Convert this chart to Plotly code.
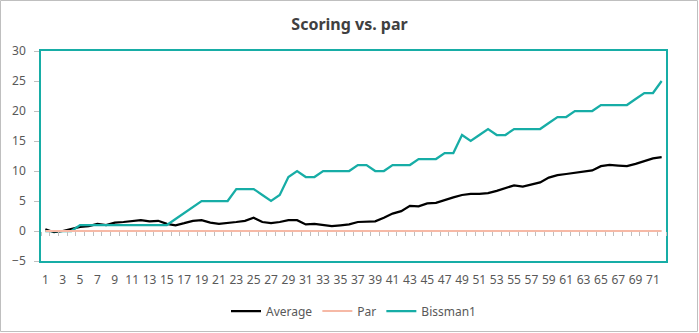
import plotly.graph_objects as go

rounds = list(range(1, 73))
average = [0.3, -0.2, 0.0, 0.3, 0.7, 0.8, 1.2, 1.0, 1.4, 1.5, 1.6, 1.8, 1.6, 1.7, 1.2, 0.95,
           1.3, 1.7, 1.8, 1.4, 1.2, 1.3, 1.5, 1.7, 2.2, 1.5, 1.3, 1.5, 1.8, 1.8, 1.1, 1.2,
           1.0, 0.8, 0.95, 1.1, 1.5, 1.6, 1.6, 2.2, 2.9, 3.3, 4.2, 4.1, 4.6, 4.7, 5.2, 5.6,
           6.0, 6.2, 6.2, 6.3, 6.7, 7.1, 7.6, 7.4, 7.7, 8.1, 8.9, 9.3, 9.5, 9.7, 9.9, 10.1,
           10.8, 11.0, 10.9, 10.8, 11.2, 11.6, 12.1, 12.3]
par = [0] * 72
bissman1 = [0, 0, 0, 0, 1, 1, 1, 1, 1, 1, 1, 1, 1, 1, 1, 2, 3, 4, 5, 5, 5, 5, 7, 7, 7, 6,
            5, 6, 9, 10, 9, 9, 10, 10, 10, 10, 11, 11, 10, 10, 11, 11, 11, 12, 12, 12, 13,
            13, 16, 15, 16, 17, 16, 16, 17, 17, 17, 17, 18, 19, 19, 20, 20, 20, 21, 21, 21,
            21, 22, 23, 23, 25]
x_labels = [str(v) for v in range(1, 73, 2)]
y_ticks = [-5, 0, 5, 10, 15, 20, 25, 30]

TEAL = "#17ADA6"
SALMON = "#F6B9A6"
FONT = "Segoe UI, Noto Sans, sans-serif"
GRAY_TXT = "#595959"

fig = go.Figure()
fig.add_trace(go.Scatter(x=rounds, y=average, name="Average", mode="lines",
                         line=dict(color="black", width=2.25)))
fig.add_trace(go.Scatter(x=rounds, y=par, name="Par", mode="lines", xaxis="x2",
                         line=dict(color=SALMON, width=2)))
fig.add_trace(go.Scatter(x=rounds, y=bissman1, name="Bissman1", mode="lines",
                         line=dict(color=TEAL, width=2.25)))

ymin, ymax = -5, 30
fig.update_layout(
    width=699, height=333,
    margin=dict(l=41, r=33, t=51, b=72, autoexpand=False),
    paper_bgcolor="white", plot_bgcolor="white",
    font=dict(family=FONT, size=12, color=GRAY_TXT),
    title=dict(text="<b>Scoring vs. par</b>", x=0.5, xanchor="center",
               y=1 - 24 / 333, yanchor="middle",
               font=dict(family=FONT, size=16, color="#404040")),
    xaxis=dict(range=[0.5, 72.5], tickmode="array",
               tickvals=list(range(1, 73, 2)), ticktext=x_labels,
               ticks="", ticklabelstandoff=7, automargin=False,
               showgrid=False, zeroline=False,
               showline=True, linecolor=TEAL, linewidth=1.5, mirror=True,
               tickfont=dict(size=12, color=GRAY_TXT)),
    xaxis2=dict(range=[0.5, 72.5], overlaying="x", anchor="free",
                position=(0 - ymin) / (ymax - ymin), automargin=False,
                tickmode="linear", tick0=0.5, dtick=1,
                ticks="outside", ticklen=4, tickcolor="#BFBFBF", tickwidth=1,
                showticklabels=False, showgrid=False, zeroline=False, showline=False),
    yaxis=dict(range=[ymin, ymax], tickmode="array", tickvals=y_ticks,
               ticks="outside", ticklen=5, tickcolor="#BFBFBF",
               ticklabelstandoff=6, automargin=False,
               showgrid=False, zeroline=False,
               showline=True, linecolor=TEAL, linewidth=1.5, mirror=True,
               tickfont=dict(size=12, color=GRAY_TXT)),
    showlegend=True,
    legend=dict(orientation="h", x=0.5, xanchor="center",
                y=(261 - 311) / 210, yanchor="middle",
                font=dict(size=12, color=GRAY_TXT), itemwidth=30,
                bgcolor="rgba(0,0,0,0)"),
)

fig.add_shape(type="rect", xref="paper", yref="paper",
              x0=(0.5 - 41) / 625, x1=(697.5 - 41) / 625,
              y0=(261 - 331.5) / 210, y1=(261 - 0.5) / 210,
              line=dict(color="#BFBFBF", width=1), fillcolor="rgba(0,0,0,0)",
              layer="below")

fig.write_html("out.html")
